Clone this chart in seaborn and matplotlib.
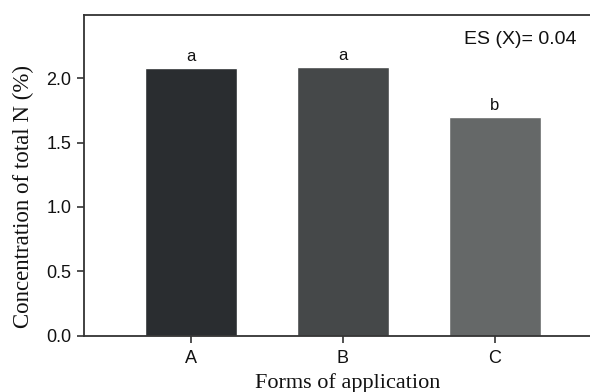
import numpy as np
import pandas as pd
import matplotlib
matplotlib.use("Agg")
import matplotlib.pyplot as plt
import seaborn as sns

forms = ["A", "B", "C"]
total_n = [2.08, 2.09, 1.70]
letters = ["a", "a", "b"]
bar_colors = ["#2a2d30", "#454849", "#656868"]
es_label = "ES (X)= 0.04"
y_ticks = [0.0, 0.5, 1.0, 1.5, 2.0]

sns.set_style("ticks")
plt.rcParams['font.family'] = ['Liberation Sans', 'DejaVu Sans']

df = pd.DataFrame({"form": forms, "n": total_n})

fig = plt.figure(figsize=(5.9, 3.92), dpi=100)
ax = fig.add_axes([84 / 590, (392 - 335.7) / 392, (590 - 84) / 590, (335.7 - 14.7) / 392])

sns.barplot(data=df, x="form", y="n", hue="form", palette=bar_colors,
            legend=False, width=0.605, saturation=1, ax=ax)

for i, (v, lab) in enumerate(zip(total_n, letters)):
    ax.annotate(lab, (i, v), xytext=(0, 3), textcoords="offset points",
                ha="center", va="bottom", fontsize=12, color="#111111")

ax.text(0.974, 0.924, es_label, transform=ax.transAxes, ha="right",
        va="center", fontsize=14, color="#111111")

ax.set_xlim(-0.702, 2.625)
ax.set_ylim(0, 2.494)
ax.set_yticks(y_ticks)
ax.set_yticklabels([f"{t:.1f}" for t in y_ticks])

ax.tick_params(axis="both", labelsize=13, length=5, width=1.2,
               colors="#333333", labelcolor="#111111", direction="out")
ax.tick_params(axis="x", pad=5)
ax.tick_params(axis="y", pad=4)

for side in ["left", "bottom", "top"]:
    ax.spines[side].set_visible(True)
    ax.spines[side].set_color("#333333")
    ax.spines[side].set_linewidth(1.3)
ax.spines["right"].set_visible(False)

ax.set_xlabel("Forms of application", family="Liberation Serif", fontsize=16,
              color="#111111")
ax.set_ylabel("Concentration of total N (%)", family="Liberation Serif",
              fontsize=16.5, color="#111111")
ax.xaxis.set_label_coords((348 - 84) / 506, (335.7 - 373) / 321)
ax.yaxis.set_label_coords((34 - 84) / 506, (335.7 - 197) / 321)

fig.savefig("out.png", dpi=100)
